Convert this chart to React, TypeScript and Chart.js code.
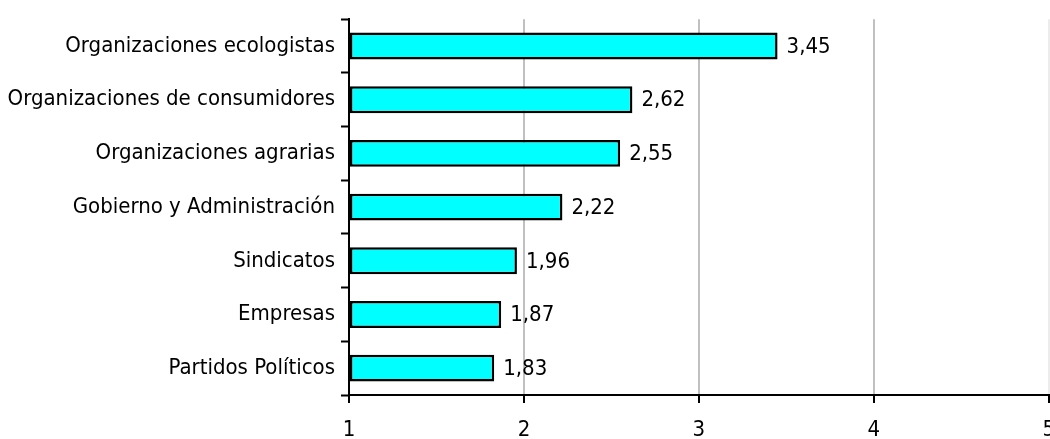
import { useEffect, useRef } from 'react';
import { Chart, registerables } from 'chart.js';

Chart.register(...registerables);

const categories = [
  'Organizaciones ecologistas',
  'Organizaciones de consumidores',
  'Organizaciones agrarias',
  'Gobierno y Administración',
  'Sindicatos',
  'Empresas',
  'Partidos Políticos',
];
const values = [3.45, 2.62, 2.55, 2.22, 1.96, 1.87, 1.83];
const xMin = 1;
const xMax = 5;

const FONT = '"Liberation Sans Narrow", "DejaVu Sans Condensed", "Liberation Sans", sans-serif';

const valueLabels = {
  id: 'valueLabels',
  afterDatasetsDraw(chart: any) {
    const ctx = chart.ctx;
    const meta = chart.getDatasetMeta(0);
    ctx.save();
    ctx.font = `22px ${FONT}`;
    ctx.fillStyle = '#000';
    ctx.textAlign = 'left';
    ctx.textBaseline = 'middle';
    meta.data.forEach((bar: any, i: number) => {
      const txt = values[i].toFixed(2).replace('.', ',');
      ctx.fillText(txt, bar.x + 9, bar.y + 1);
    });
    ctx.restore();
  },
};

export default function App() {
  const ref = useRef<HTMLCanvasElement>(null);
  useEffect(() => {
    document.body.style.margin = '0';
    const chart = new Chart(ref.current!, {
      type: 'bar',
      data: {
        labels: categories,
        datasets: [
          {
            data: values,
            base: xMin,
            backgroundColor: '#00FFFF',
            borderColor: '#000000',
            borderWidth: 2.5,
            borderSkipped: false,
            categoryPercentage: 0.5,
            barPercentage: 1,
          } as any,
        ],
      },
      options: {
        indexAxis: 'y',
        animation: false,
        responsive: false,
        maintainAspectRatio: false,
        devicePixelRatio: 1,
        layout: { padding: { top: 17, right: 0, bottom: 0, left: 0 } },
        plugins: { legend: { display: false }, tooltip: { enabled: false } },
        scales: {
          x: {
            type: 'linear',
            min: xMin,
            max: xMax,
            ticks: {
              stepSize: 1,
              color: '#000',
              font: { family: FONT, size: 22 },
              padding: 14,
              callback: (v: any) => String(v),
            },
            grid: {
              color: (c: any) => (c.tick && c.tick.value === xMax ? '#ececec' : '#c0c0c0'),
              lineWidth: 2,
              tickColor: '#000',
              tickLength: 8,
              tickWidth: 2,
            },
            border: { color: '#000', width: 2 },
            afterFit: (s: any) => {
              s.height = 44;
            },
          },
          y: {
            ticks: {
              color: '#000',
              font: { family: FONT, size: 22 },
              padding: 6,
            },
            grid: {
              drawOnChartArea: false,
              tickColor: '#000',
              tickLength: 8,
              tickWidth: 2,
              offset: true,
            },
            border: { color: '#000', width: 2 },
            afterFit: (s: any) => {
              s.width = 349;
            },
          },
        },
      },
      plugins: [valueLabels],
    });
    return () => chart.destroy();
  }, []);
  return (
    <div style={{ position: 'absolute', left: 0, top: 0, width: 1050, height: 439, overflow: 'hidden' }}>
      <canvas ref={ref} width={1069} height={439} style={{ display: 'block' }} />
    </div>
  );
}
